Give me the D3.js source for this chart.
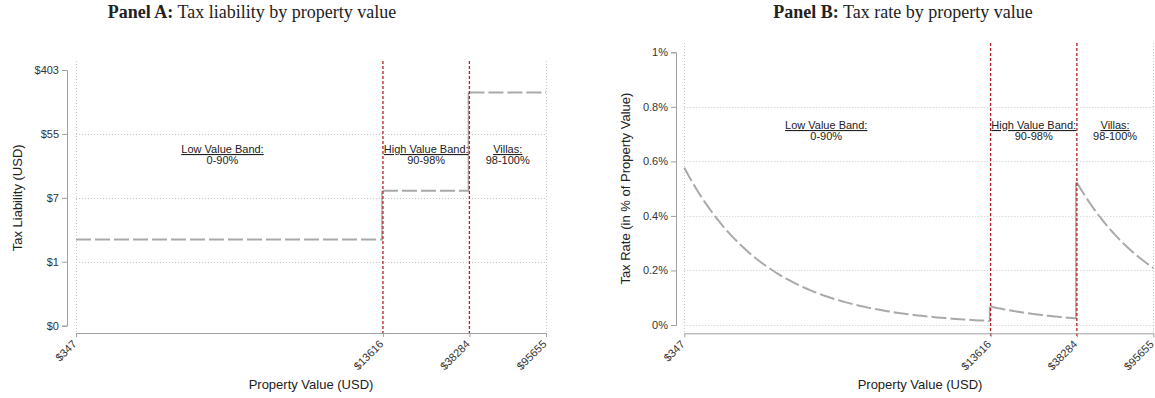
<!DOCTYPE html>
<html lang="en">
	<head>
		<meta charset="utf-8">
		<title>D3: tax liability and tax rate by property value</title>
		<script src="https://d3js.org/d3.v7.min.js"></script>
		<style type="text/css">
			body { margin: 0; background: #fff; }
			text { font-family: "Liberation Sans", Arial, sans-serif; fill: #222; }
			.title { font-family: "Liberation Serif", "DejaVu Serif", serif; font-size: 18px; }
			.axis path, .axis line { stroke: #a0a0a0; }
			.axis text { font-size: 11px; fill: #333; }
		</style>
	</head>
	<body>
		<script type="text/javascript">
			// band cut-offs (property value, USD) and tax liability per band
			var bandBounds = [347, 13616, 38284, 95655];
			var bandTax = [2.0, 9.2, 200];
			var bandNames = ["Low Value Band:", "High Value Band:", "Villas:"];
			var bandShares = ["0-90%", "90-98%", "98-100%"];

			// tick values
			var xTicks = [347, 13616, 38284, 95655];
			var yTicksA = [0.1353, 1, 7.389, 54.6, 403.4];
			var yTickLabelsA = ["$0", "$1", "$7", "$55", "$403"];
			var yTicksB = [0, 0.2, 0.4, 0.6, 0.8, 1];
			var yTickLabelsB = ["0%", "0.2%", "0.4%", "0.6%", "0.8%", "1%"];

			var svg = d3.select("body").append("svg")
				.attr("width", 1155)
				.attr("height", 398);

			var grey = "#a9a9a9";
			var red = "#b22222";

			// ---------------- Panel A ----------------
			var xA = d3.scaleLog().domain([347, 95655]).range([76, 546]);
			var yA = d3.scaleLog().base(Math.E).domain([yTicksA[0], yTicksA[4]]).range([325.7, 70]);
			var topA = 61, axisYA = 333, axisXA = 67;

			// ---------------- Panel B ----------------
			var xB = d3.scaleLog().domain([347, 95655]).range([684.3, 1153.3]);
			var yB = d3.scaleLinear().domain([0, 1]).range([325, 52.3]);
			var topB = 43, axisYB = 333.3, axisXB = 676;

			function grid(g, x, y, top, bottom, yGrid) {
				g.selectAll(".hgrid").data(yGrid).enter().append("line")
					.attr("x1", x.range()[0]).attr("x2", x.range()[1])
					.attr("y1", function(d){ return Math.round(y(d)) + 0.5; })
					.attr("y2", function(d){ return Math.round(y(d)) + 0.5; })
					.attr("stroke", "#c8c8c8").attr("stroke-width", 1)
					.attr("stroke-dasharray", "1,2");
				g.selectAll(".vgrid").data([xTicks[0], xTicks[3]]).enter().append("line")
					.attr("x1", function(d){ return Math.round(x(d)) + 0.5; })
					.attr("x2", function(d){ return Math.round(x(d)) + 0.5; })
					.attr("y1", top).attr("y2", bottom)
					.attr("stroke", "#c8c8c8").attr("stroke-width", 1)
					.attr("stroke-dasharray", "1,2");
			}

			// cut-off lines, drawn on top of the series
			function cuts(g, x, top, bottom) {
				g.selectAll(".cut").data([xTicks[1], xTicks[2]]).enter().append("line")
					.attr("x1", function(d){ return x(d); })
					.attr("x2", function(d){ return x(d); })
					.attr("y1", top).attr("y2", bottom + 3)
					.attr("stroke", red).attr("stroke-width", 1.3)
					.attr("stroke-dasharray", "3,2");
			}

			function xAxis(g, x, yPos, cx, label) {
				var ax = g.append("g")
					.attr("class", "axis")
					.attr("transform", "translate(0," + yPos + ")")
					.call(d3.axisBottom(x).tickValues(xTicks).tickSize(4).tickSizeOuter(0)
						.tickFormat(function(d){ return "$" + d; }));
				ax.selectAll("text")
					.style("text-anchor", "end")
					.attr("x", 0)
					.attr("y", 0)
					.attr("dy", "0.35em")
					.attr("transform", "translate(-2,9) rotate(-45)");
				g.append("text")
					.attr("x", cx).attr("y", 389)
					.attr("text-anchor", "middle")
					.style("font-size", "13px")
					.text(label);
			}

			function yAxis(g, y, xPos, ticks, labels, lx, label) {
				g.append("g")
					.attr("class", "axis")
					.attr("transform", "translate(" + xPos + ",0)")
					.call(d3.axisLeft(y).tickValues(ticks).tickSize(5)
						.tickFormat(function(d, i){ return labels[i]; }));
				var mid = (y.range()[0] + y.range()[1]) / 2;
				g.append("text")
					.attr("transform", "translate(" + lx + "," + mid + ") rotate(-90)")
					.attr("text-anchor", "middle")
					.style("font-size", "13px")
					.text(label);
			}

			function bandLabels(g, x, yBase, at) {
				bandNames.forEach(function(n, i){
					var t = g.append("text")
						.attr("x", x(at[i]))
						.attr("y", yBase)
						.attr("text-anchor", "middle")
						.style("font-size", "11px");
					t.append("tspan").attr("text-decoration", "underline").text(n);
					t.append("tspan").attr("x", x(at[i])).attr("dy", 11).text(bandShares[i]);
				});
			}

			var line = d3.line();

			// Panel A drawing
			var gA = svg.append("g");
			grid(gA, xA, yA, topA, axisYA, [1, 7.389, 54.6]);

			// vertical jumps at cut-offs
			gA.selectAll(".jump").data([1, 2]).enter().append("line")
				.attr("x1", function(i){ return xA(bandBounds[i]) - 1; })
				.attr("x2", function(i){ return xA(bandBounds[i]) - 1; })
				.attr("y1", function(i){ return yA(bandTax[i - 1]); })
				.attr("y2", function(i){ return yA(bandTax[i]); })
				.attr("stroke", grey).attr("stroke-width", 1.5);

			gA.selectAll(".step").data(bandTax).enter().append("path")
				.attr("d", function(d, i){
					return line([[xA(bandBounds[i]), yA(d)], [xA(bandBounds[i + 1]), yA(d)]]);
				})
				.attr("fill", "none")
				.attr("stroke", grey).attr("stroke-width", 2)
				.attr("stroke-dasharray", "15,4");

			cuts(gA, xA, topA, axisYA);
			xAxis(gA, xA, axisYA, 311, "Property Value (USD)");
			yAxis(gA, yA, axisXA, yTicksA, yTickLabelsA, 22, "Tax Liability (USD)");
			bandLabels(gA, xA, 153, [2000, 22830, 60520]);

			gA.append("text").attr("class", "title")
				.attr("x", 252).attr("y", 18)
				.attr("text-anchor", "middle")
				.call(function(t){
					t.append("tspan").attr("font-weight", "bold").text("Panel A:");
					t.append("tspan").text(" Tax liability by property value");
				});

			// Panel B drawing
			var gB = svg.append("g");
			grid(gB, xB, yB, topB, axisYB, [0, 0.2, 0.4, 0.6, 0.8]);

			gB.selectAll(".jump").data([1, 2]).enter().append("line")
				.attr("x1", function(i){ return xB(bandBounds[i]) - 1; })
				.attr("x2", function(i){ return xB(bandBounds[i]) - 1; })
				.attr("y1", function(i){ return yB(bandTax[i - 1] / bandBounds[i] * 100); })
				.attr("y2", function(i){ return yB(bandTax[i] / bandBounds[i] * 100); })
				.attr("stroke", grey).attr("stroke-width", 1.5);

			// rate = liability / property value, along each band
			gB.selectAll(".curve").data(bandTax).enter().append("path")
				.attr("d", function(d, i){
					var lo = bandBounds[i], hi = bandBounds[i + 1];
					var pts = d3.range(0, 81).map(function(k){
						var v = lo * Math.pow(hi / lo, k / 80);
						return [xB(v), yB(d / v * 100)];
					});
					return line(pts);
				})
				.attr("fill", "none")
				.attr("stroke", grey).attr("stroke-width", 2)
				.attr("stroke-dasharray", "15,4");

			cuts(gB, xB, topB, axisYB);
			xAxis(gB, xB, axisYB, 920, "Property Value (USD)");
			yAxis(gB, yB, axisXB, yTicksB, yTickLabelsB, 630, "Tax Rate (in % of Property Value)");
			bandLabels(gB, xB, 129, [1900, 22830, 60520]);

			gB.append("text").attr("class", "title")
				.attr("x", 903).attr("y", 18)
				.attr("text-anchor", "middle")
				.call(function(t){
					t.append("tspan").attr("font-weight", "bold").text("Panel B:");
					t.append("tspan").text(" Tax rate by property value");
				});
		</script>
	</body>
</html>
